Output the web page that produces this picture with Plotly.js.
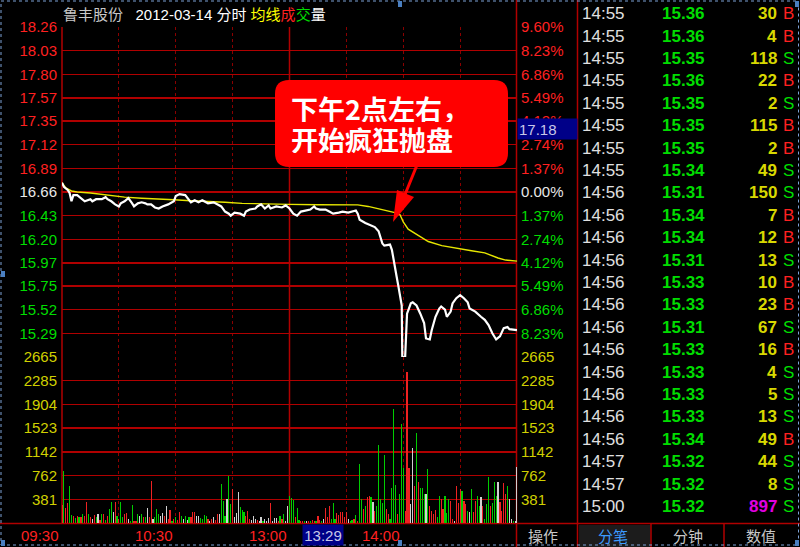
<!DOCTYPE html>
<html><head><meta charset="utf-8">
<script src="https://cdn.plot.ly/plotly-3.0.1.min.js"></script>
<style>html,body{margin:0;padding:0;background:#000;}#chart{width:800px;height:547px;}</style>
</head><body><div id="chart"></div>
<script>
// ---------------- data ----------------
const stockName = '鲁丰股份';
const chartDate = '2012-03-14';
const prevClose = 16.66;

// price line: minute offset from 09:30 (trading minutes) and price
const priceMin = [0,1,3,4,5,6,8,10,12,15,16,18,21,23,24,26,28,30,31,33,35,37,38,40,42,44,45,47,49,51,53,56,59,60,62,65,67,68,70,72,74,77,80,82,84,86,88,89,91,94,96,97,99,102,103,105,107,109,110,113,116,118,120,122,124,126,128,131,133,134,136,139,141,143,146,148,151,154,155,156,157,160,163,165,167,168,169,170,173,174,175,176.5,177.4,178.3,179.2,179.5,181,182,184,185,187,189,191,192,194,195,197,199,200,202,203,205,206,208,210,212,214,215,218,221,223,225,227,229,231,233,235,236,239,240];
const priceVal = [16.75,16.71,16.68,16.65,16.57,16.63,16.63,16.60,16.57,16.59,16.57,16.59,16.59,16.61,16.59,16.57,16.54,16.52,16.55,16.57,16.60,16.55,16.52,16.55,16.56,16.55,16.54,16.54,16.51,16.50,16.52,16.54,16.57,16.62,16.64,16.63,16.59,16.56,16.58,16.56,16.58,16.55,16.56,16.54,16.52,16.47,16.45,16.43,16.46,16.45,16.43,16.47,16.49,16.50,16.52,16.54,16.50,16.53,16.50,16.52,16.51,16.53,16.50,16.45,16.43,16.47,16.48,16.49,16.52,16.50,16.49,16.49,16.47,16.45,16.46,16.47,16.46,16.47,16.48,16.45,16.39,16.36,16.34,16.32,16.28,16.23,16.16,16.14,16.15,16.10,15.98,15.84,15.75,15.66,15.56,15.06,15.06,15.48,15.58,15.59,15.56,15.48,15.39,15.24,15.23,15.32,15.45,15.53,15.55,15.52,15.45,15.50,15.58,15.63,15.66,15.63,15.59,15.53,15.50,15.45,15.42,15.37,15.29,15.23,15.26,15.34,15.35,15.33,15.32,15.32];

// average price line
const avgMin = [0,2,5,8,15,24,33,42,51,59,68,77,86,95,103,120,135,156,161.5,168.6,175.6,178.3,180,182.6,187.9,193.2,200.3,209,216,223,230,234,240];
const avgVal = [16.75,16.70,16.67,16.66,16.65,16.63,16.61,16.60,16.595,16.585,16.575,16.57,16.56,16.55,16.545,16.54,16.537,16.535,16.52,16.49,16.46,16.44,16.37,16.30,16.24,16.18,16.14,16.11,16.09,16.07,16.02,16.00,15.99];

// per-minute volume (lots), minute 0 .. 240
const volVal = [
 290,830,240,320,590,135,110,80,120,90,
 100,150,110,330,150,100,60,130,90,140,
 50,150,140,50,110,230,330,180,330,120,
 60,330,90,150,160,60,30,290,40,40,
 150,120,140,100,90,240,100,670,70,90,
 230,150,110,160,110,280,70,210,40,70,
 100,50,170,110,60,110,50,100,90,170,
 180,110,120,80,70,130,110,60,40,70,
 100,50,150,140,620,350,120,380,760,310,
 550,90,160,500,260,210,180,120,190,60,
 50,110,60,50,40,90,40,60,30,80,
 320,40,80,80,40,120,60,140,40,270,
 440,400,370,100,240,50,30,30,40,30,
 40,30,50,40,30,110,50,40,60,240,
 90,270,60,320,60,160,130,170,170,100,
 170,60,30,50,60,130,40,940,380,220,
 270,420,430,410,340,190,270,1260,380,320,
 1090,220,140,60,560,1830,610,150,460,1590,
 880,200,2420,890,300,1210,590,1440,660,560,
 560,460,460,860,280,190,140,210,90,440,
 390,220,440,160,380,360,60,30,590,320,
 550,510,350,310,190,170,550,170,350,430,
 270,420,270,60,300,740,270,320,660,430,
 660,330,200,650,460,590,380,60,30,40,
 900];
// tick direction per minute: r = up, g = down, w = flat
const volDir = ('rgrrggrgrg'+'rgrrgrwrgw'+'rgrgrggwrg'+'rggrrwggrr'+'gwgrgwrrwg'+'ggwwrwrrgr'+
 'grrgwgwgrr'+'rwwggggrwr'+'wrrwgggwgg'+'rwwwgggrrr'+'wwwrwwgwww'+'rwwwrgrgww'+
 'gggrggrrgw'+'rgrrgrrgwr'+'rrgggrrrrr'+'rwggrgrggr'+'grrgwrgggg'+'grrggggrgg'+
 'grrrwwrgrg'+'ggwgrrrrgg'+'rrgggrrwrr'+'rgrrgwgrrg'+'gwrgggrggg'+'wrrrrgwwgw'+'w').split('');

// axis labels
const priceTicks = ['18.26','18.03','17.80','17.57','17.35','17.12','16.89','16.66','16.43','16.20','15.97','15.75','15.52','15.29'];
const pctTicks = ['9.60%','8.23%','6.86%','5.49%','4.12%','2.74%','1.37%','0.00%','1.37%','2.74%','4.12%','5.49%','6.86%','8.23%'];
const volTicks = ['2665','2285','1904','1523','1142','762','381'];
const timeTickMin = [0,60,120,180];
const timeTickText = ['09:30','10:30','13:00','14:00'];
const gridMin = [30,60,90,150,180,210];
const cursorMin = 149, cursorTime = '13:29', cursorPrice = '17.18';

// tick-by-tick table
const tradeTime = ['14:55','14:55','14:55','14:55','14:55','14:55','14:55','14:55','14:56','14:56','14:56','14:56','14:56','14:56','14:56','14:56','14:56','14:56','14:56','14:56','14:57','14:57','15:00'];
const tradePrice = ['15.36','15.36','15.35','15.36','15.35','15.35','15.35','15.34','15.31','15.34','15.34','15.31','15.33','15.33','15.31','15.33','15.33','15.33','15.33','15.34','15.32','15.32','15.32'];
const tradeVol = [30,4,118,22,2,115,2,49,150,7,12,13,10,23,67,16,4,5,13,49,44,8,897];
const tradeSide = ['B','B','S','B','S','B','B','S','S','B','B','S','B','B','S','B','S','S','S','B','S','S','S'];

const calloutLines = ['下午2点左右，','开始疯狂抛盘'];
const tabLabels = ['分笔','分钟','数值'];
const opLabel = '操作';

// ---------------- drawing ----------------
const W = 800, H = 547;
const PX = x => x / W;
const PY = y => 1 - y / H;
const RED = '#ff2020', GREEN = '#00dd00', WHITE = '#e8e8e8', YEL = '#d0d000';
const GRID = '#b00000';
const FONT = 'Liberation Sans, Noto Sans CJK SC, sans-serif';
const CJK = 'Noto Sans CJK SC, sans-serif';

const priceColor = v => Math.abs(v - prevClose) < 0.005 ? WHITE : (v > prevClose ? RED : GREEN);
const priceTickText = priceTicks.map(t => `<span style="color:${priceColor(+t)}">${t}</span>`);
const pctTickText = pctTicks.map((t, i) => `<span style="color:${priceColor(+priceTicks[i])}">${t}</span>`);
const dirColor = {r: '#ee2222', g: '#00cc00', w: '#d0d0d0'};

const traces = [
  {type: 'bar', x: volVal.map((_, i) => i), y: volVal, xaxis: 'x', yaxis: 'y2',
   marker: {color: volDir.map(d => dirColor[d]), line: {width: 0}}, width: 0.62, hoverinfo: 'skip'},
  {type: 'scatter', mode: 'lines', x: avgMin, y: avgVal, xaxis: 'x', yaxis: 'y',
   line: {color: '#e6e600', width: 1.4}, hoverinfo: 'skip'},
  {type: 'scatter', mode: 'lines', x: priceMin, y: priceVal, xaxis: 'x', yaxis: 'y',
   line: {color: '#ffffff', width: 2.2}, hoverinfo: 'skip'},
  {type: 'scatter', mode: 'markers', x: [0], y: [prevClose], xaxis: 'x', yaxis: 'y3', marker: {opacity: 0}, hoverinfo: 'skip'},
  {type: 'scatter', mode: 'markers', x: [0], y: [0], xaxis: 'x', yaxis: 'y4', marker: {opacity: 0}, hoverinfo: 'skip'}
];

const pRange = [15.06, 18.26], vRange = [0, 2665];
const baseY = {ticks: '', showline: false, zeroline: false, fixedrange: true, ticklabelstandoff: 4};

const layout = {
  width: W, height: H, margin: {l: 0, r: 0, t: 0, b: 0, pad: 0},
  paper_bgcolor: '#000000', plot_bgcolor: 'rgba(0,0,0,0)',
  showlegend: false, hovermode: false, bargap: 0,
  xaxis: {domain: [PX(62), PX(517)], range: [0, 240], anchor: 'y2', tickvals: gridMin,
          showticklabels: false, ticks: '', showgrid: true, gridcolor: '#8a0000', griddash: 'dot',
          gridwidth: 1, zeroline: false, showline: false, fixedrange: true},
  yaxis: Object.assign({}, baseY, {domain: [PY(357), PY(27)], range: pRange, anchor: 'x',
          tickvals: priceTicks.map(Number), ticktext: priceTickText, tickfont: {family: FONT, size: 15, color: WHITE},
          showgrid: true, gridcolor: GRID, gridwidth: 1.5}),
  yaxis2: Object.assign({}, baseY, {domain: [PY(523), PY(357)], range: vRange, anchor: 'x',
          tickvals: volTicks.map(Number), ticktext: volTicks, tickfont: {family: FONT, size: 15, color: YEL},
          showgrid: true, gridcolor: GRID, gridwidth: 1.5}),
  yaxis3: Object.assign({}, baseY, {overlaying: 'y', side: 'right', anchor: 'x', range: pRange,
          tickvals: priceTicks.map(Number), ticktext: pctTickText, tickfont: {family: FONT, size: 15, color: WHITE},
          showgrid: false, ticklabelstandoff: 3}),
  yaxis4: Object.assign({}, baseY, {overlaying: 'y2', side: 'right', anchor: 'x', range: vRange,
          tickvals: volTicks.map(Number), ticktext: volTicks, tickfont: {family: FONT, size: 15, color: YEL},
          showgrid: false, ticklabelstandoff: 3}),
  shapes: [],
  annotations: []
};

const S = layout.shapes, A = layout.annotations;
function pline(x0, y0, x1, y1, color, width, dash, layer) {
  S.push({type: 'line', xref: 'paper', yref: 'paper', x0: PX(x0), y0: PY(y0), x1: PX(x1), y1: PY(y1),
          line: {color: color, width: width, dash: dash || 'solid'}, layer: layer || 'above'});
}
function prect(x0, y0, x1, y1, fill, layer) {
  S.push({type: 'rect', xref: 'paper', yref: 'paper', x0: PX(x0), y0: PY(y1), x1: PX(x1), y1: PY(y0),
          fillcolor: fill, line: {width: 0}, layer: layer || 'above'});
}

// frame lines
pline(0, 523.5, 800, 523.5, GRID, 1.5, 'solid', 'below');
pline(62, 27, 62, 523, GRID, 1.5, 'solid', 'below');
pline(516.5, 0, 516.5, 547, GRID, 1.5, 'solid', 'below');
pline(577.5, 0, 577.5, 547, GRID, 1.5, 'solid', 'below');
S.push({type: 'line', xref: 'x', yref: 'paper', x0: 120, x1: 120, y0: PY(523), y1: PY(27),
        line: {color: GRID, width: 1.5}, layer: 'below'});

// bottom tabs
prect(579, 525, 650.5, 547, '#1c1c1c', 'below');
pline(651, 524, 651, 547, GRID, 1.5, 'solid', 'below');
pline(724, 524, 724, 547, GRID, 1.5, 'solid', 'below');
const tabX = [613, 688, 761];
tabLabels.forEach((t, i) => A.push({xref: 'paper', yref: 'paper', x: PX(tabX[i]), y: PY(535),
  xanchor: 'center', yanchor: 'middle', showarrow: false, text: t,
  font: {family: CJK, size: 15, color: i === 0 ? '#3d9bff' : '#c8c8c8'}}));
A.push({xref: 'paper', yref: 'paper', x: PX(543), y: PY(535), xanchor: 'center', yanchor: 'middle',
  showarrow: false, text: opLabel, font: {family: CJK, size: 15, color: '#c8c8c8'}});

// time labels (right-aligned to gridlines)
timeTickMin.forEach((m, i) => A.push({xref: 'x', yref: 'paper', x: m, y: PY(535), xanchor: 'right', yanchor: 'middle',
  xshift: -1, showarrow: false, text: timeTickText[i], font: {family: FONT, size: 15, color: RED}}));
// cursor boxes
A.push({xref: 'x', yref: 'paper', x: cursorMin, y: PY(535), xanchor: 'right', yanchor: 'middle',
  showarrow: false, text: cursorTime, bgcolor: '#000088', width: 38, height: 18, borderpad: 1,
  font: {family: FONT, size: 15, color: '#c8c8e8'}});
A.push({xref: 'paper', yref: 'paper', x: PX(517), y: PY(129), xanchor: 'left', yanchor: 'middle',
  showarrow: false, text: cursorPrice, bgcolor: '#000088', width: 57, height: 18, align: 'left', borderpad: 1,
  font: {family: FONT, size: 15, color: '#c8c8e8'}});

// header
A.push({xref: 'paper', yref: 'paper', x: PX(61), y: PY(14), xanchor: 'left', yanchor: 'middle', showarrow: false,
  text: `<span style="color:#c8c8c8">${stockName}</span>&nbsp;&nbsp;&nbsp;${chartDate} 分时 <span style="color:#ffff00">均线</span><span style="color:${RED}">成</span><span style="color:${GREEN}">交</span><span style="color:#ffffff">量</span>`,
  font: {family: FONT, size: 15, color: '#ffffff'}});

// trades table
tradeTime.forEach((t, i) => {
  const y = PY(13.7 + i * 22.4);
  A.push({xref: 'paper', yref: 'paper', x: PX(580), y: y, xanchor: 'left', yanchor: 'middle', showarrow: false,
    text: t, font: {family: FONT, size: 17, color: '#e0e0e0'}});
  A.push({xref: 'paper', yref: 'paper', x: PX(660), y: y, xanchor: 'left', yanchor: 'middle', showarrow: false,
    text: tradePrice[i], font: {family: FONT, size: 17, color: GREEN, weight: 'bold'}});
  A.push({xref: 'paper', yref: 'paper', x: PX(779), y: y, xanchor: 'right', yanchor: 'middle', showarrow: false,
    text: String(tradeVol[i]), font: {family: FONT, size: 17, color: tradeVol[i] > 500 ? '#e000e0' : '#d8d800', weight: 'bold'}});
  A.push({xref: 'paper', yref: 'paper', x: PX(781), y: y, xanchor: 'left', yanchor: 'middle', showarrow: false,
    text: tradeSide[i], font: {family: FONT, size: 17, color: tradeSide[i] === 'B' ? RED : GREEN}});
});

// callout bubble
(function () {
  const x0 = 275, x1 = 508, y0 = 80, y1 = 167, r = 14;
  const p = (x, y) => PX(x).toFixed(5) + ',' + PY(y).toFixed(5);
  const path = `M${p(x0 + r, y0)} L${p(x1 - r, y0)} Q${p(x1, y0)} ${p(x1, y0 + r)} L${p(x1, y1 - r)} Q${p(x1, y1)} ${p(x1 - r, y1)} ` +
    `L${p(x0 + r, y1)} Q${p(x0, y1)} ${p(x0, y1 - r)} L${p(x0, y0 + r)} Q${p(x0, y0)} ${p(x0 + r, y0)} Z`;
  S.push({type: 'path', xref: 'paper', yref: 'paper', path: path, fillcolor: '#ff0000', line: {width: 0}, layer: 'above'});
  pline(417, 165, 404, 197, '#ff0000', 3, 'solid', 'above');
  S.push({type: 'path', xref: 'paper', yref: 'paper',
    path: `M${p(393, 222)} L${p(397, 190)} L${p(414, 197)} Z`, fillcolor: '#ff0000', line: {width: 0}, layer: 'above'});
  A.push({xref: 'paper', yref: 'paper', x: PX(289), y: PY(108), xanchor: 'left', yanchor: 'middle', showarrow: false,
    height: 28, text: calloutLines[0], font: {family: CJK, size: 27, color: '#ffffff', weight: 'bold'}});
  A.push({xref: 'paper', yref: 'paper', x: PX(289), y: PY(139), xanchor: 'left', yanchor: 'middle', showarrow: false,
    height: 28, text: calloutLines[1], font: {family: CJK, size: 27, color: '#ffffff', weight: 'bold'}});
})();

// window border & handles
S.push({type: 'rect', xref: 'paper', yref: 'paper', x0: PX(1), x1: PX(798.5), y0: PY(545), y1: PY(1),
        line: {color: '#7da2d6', width: 1, dash: 'dot'}, layer: 'above'});
[[398, 1, 402, 7], [1, 271, 5, 277], [398, 540, 402, 546], [1, 540, 5, 546], [795, 1, 799, 7], [795, 540, 799, 546]]
  .forEach(b => prect(b[0], b[1], b[2], b[3], '#4a7fc0', 'above'));

Plotly.newPlot('chart', traces, layout, {displayModeBar: false, staticPlot: true});
</script>
</body></html>
